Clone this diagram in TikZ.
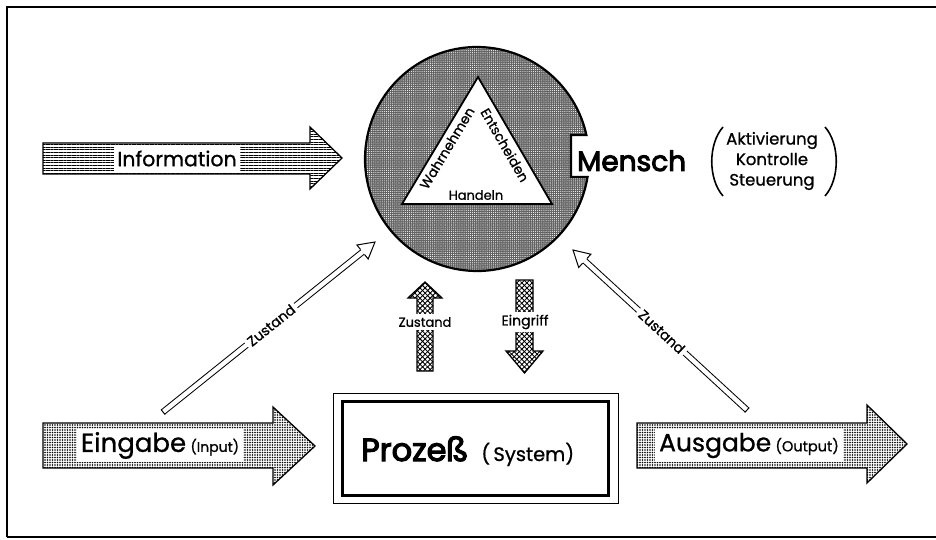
\documentclass[tikz,border=0pt]{standalone}
\usepackage{fontspec}
\setmainfont{Poppins}[FakeBold=0.9]
\newfontfamily\hv{Poppins}[FakeBold=3.5]
\usetikzlibrary{calc,patterns.meta}
\tikzset{
  fz/.style={font=\fontsize{#1}{#1}\selectfont},
  fatarrow/.style={draw=black, line width=1.3pt, line join=miter},
  hatch/.style={pattern={Lines[angle=#1,distance=3.6pt,line width=0.9pt]}},
  txtbox/.style={fill=white, inner sep=1pt},
  hollow/.style={double=white, double distance=4.4pt, line width=1pt},
  dotfill/.style={pattern={Dots[distance=2.5pt,radius=0.8pt]}, pattern color=black},
}
\begin{document}
\begin{tikzpicture}[x=1pt,y=-1pt]
\useasboundingbox (0,0) rectangle (936,540);
% frame
\draw[line width=2.6pt] (7,537) -- (7,7) -- (936,7);
\draw[line width=1.6pt] (7,537) -- (936,537);

% ---------- Mensch circle with notch ----------
\coordinate (c) at (477,159);
\fill[black!62]
  ($(c)+(9.2:112)$) arc[start angle=9.2, end angle=347.6, radius=112] -- (571,135) -- (571,177) -- cycle;
\path[pattern={Dots[distance=2.1pt,radius=0.55pt]}, pattern color=white]
  ($(c)+(9.2:112)$) arc[start angle=9.2, end angle=347.6, radius=112] -- (571,135) -- (571,177) -- cycle;
\draw[line width=2.2pt] ($(c)+(9.2:112)$) arc[start angle=9.2, end angle=347.6, radius=112] -- (571,135) -- (571,177) -- cycle;
% triangle
\coordinate (ta) at (478,77);
\coordinate (tl) at (402,204);
\coordinate (tr) at (552,204);
\draw[fill=white, line width=1.8pt, line join=miter] (ta) -- (tl) -- (tr) -- cycle;
\node[fz=13.5, rotate=59, inner sep=0pt] (wahr) at (447,148) {Wahrnehmen};
\node[fz=13.5, rotate=-60, inner sep=0pt] (ents) at (505,145) {Entscheiden};
\node[fz=13, inner sep=0pt] (hand) at (476,195) {Handeln};

\node[font=\fontsize{28}{34}\selectfont\hv, anchor=base west, inner sep=0pt] (mensch) at (577,171) {Mensch};
\node[inner sep=0pt, font=\fontsize{16.5}{20.5}\selectfont, align=center] (akt) at (772,161)
  {Aktivierung\\Kontrolle\\Steuerung};
\coordinate (plt) at (723,127);
\coordinate (plb) at (723,196);
\coordinate (prt) at (825,127);
\coordinate (prb) at (825,196);
\draw[line width=1.6pt] (plt) .. controls (708,144) and (708,179) .. (plb);
\draw[line width=1.6pt] (prt) .. controls (840,144) and (840,179) .. (prb);

% ---------- Information arrow ----------
\path[pattern={Lines[angle=0,distance=2.6pt,line width=1pt]}]
  (43,143) -- (310,143) -- (310,127) -- (342,158) -- (310,189) -- (310,174) -- (43,174) -- cycle;
\draw[fatarrow]
  (43,143) -- (310,143) -- (310,127) -- (342,158) -- (310,189) -- (310,174) -- (43,174) -- cycle;
\node[txtbox, fz=20.5, minimum height=27pt, inner xsep=3pt] (info) at (177,158.5) {Information};

% ---------- Eingabe / Ausgabe arrows ----------
\path[dotfill]
  (43,423) -- (273,423) -- (273,407) -- (315,446) -- (273,485) -- (273,468) -- (43,468) -- cycle;
\draw[fatarrow]
  (43,423) -- (273,423) -- (273,407) -- (315,446) -- (273,485) -- (273,468) -- (43,468) -- cycle;
\node[txtbox, inner xsep=4pt, minimum height=33pt] (ein) at (160,445.5)
  {\fontsize{26}{28}\selectfont Eingabe\,\fontsize{14}{16}\selectfont(Input)};

\path[dotfill]
  (637,423) -- (867,423) -- (867,405) -- (907,444) -- (867,483) -- (867,468) -- (637,468) -- cycle;
\draw[fatarrow]
  (637,423) -- (867,423) -- (867,405) -- (907,444) -- (867,483) -- (867,468) -- (637,468) -- cycle;
\node[txtbox, inner xsep=4pt, minimum height=33pt] (aus) at (749,445.5)
  {\fontsize{25}{28}\selectfont Ausgabe\,\fontsize{14.5}{16}\selectfont(Output)};

% ---------- Prozess box ----------
\draw[line width=1pt] (333,393) rectangle (618,503);
\draw[line width=3pt] (342,401) rectangle (608,495);
\node[anchor=base west, inner sep=0pt] (proz) at (361,461)
  {{\fontsize{32}{36}\selectfont\hv Prozeß}\hspace{13pt}{\fontsize{19.5}{22}\selectfont(\,System)}};

% ---------- middle arrows ----------
\foreach \a in {45,-45}{
  \path[hatch=\a] (417,371) -- (417,298) -- (408,298) -- (425,282) -- (442,298) -- (433,298) -- (433,371) -- cycle;
  \path[hatch=\a] (516,280) -- (533,280) -- (533,351) -- (543,351) -- (524.5,373) -- (506,351) -- (516,351) -- cycle;
}
\draw[fatarrow] (417,371) -- (417,298) -- (408,298) -- (425,282) -- (442,298) -- (433,298) -- (433,371) -- cycle;
\draw[fatarrow] (516,280) -- (533,280) -- (533,351) -- (543,351) -- (524.5,373) -- (506,351) -- (516,351) -- cycle;
\node[txtbox, fz=13, inner ysep=3pt] (zm) at (425,322) {Zustand};
\node[txtbox, fz=14, inner ysep=3pt] (eg) at (525,322) {Eingriff};

% ---------- diagonal hollow arrows ----------
\coordinate (zl0) at (163,412);
\coordinate (zl1) at (375,242);
\coordinate (zr0) at (747,410);
\coordinate (zr1) at (573,250);
\foreach \s/\e in {zl0/zl1, zr0/zr1}{
  \coordinate (hb) at ($(\e)!16pt!(\s)$);
  \draw[hollow] (\s) -- (hb);
  \draw[line width=1pt] ($(\s)!3.2pt!90:(\e)$) -- ($(\s)!3.2pt!-90:(\e)$);
  \filldraw[fill=white, line width=1pt, line join=miter]
    ($(hb)!3.2pt!90:(\e)$) -- ($(hb)!9pt!90:(\e)$) -- (\e) -- ($(hb)!9pt!-90:(\e)$) -- ($(hb)!3.2pt!-90:(\e)$);
}
\path (zl0) -- node[pos=0.51, sloped, txtbox, fz=14, inner xsep=3pt] (zlt) {Zustand} (zl1);
\path (zr0) -- node[pos=0.49, sloped, txtbox, fz=14, inner xsep=3pt] (zrt) {Zustand} (zr1);
\end{tikzpicture}
\end{document}
